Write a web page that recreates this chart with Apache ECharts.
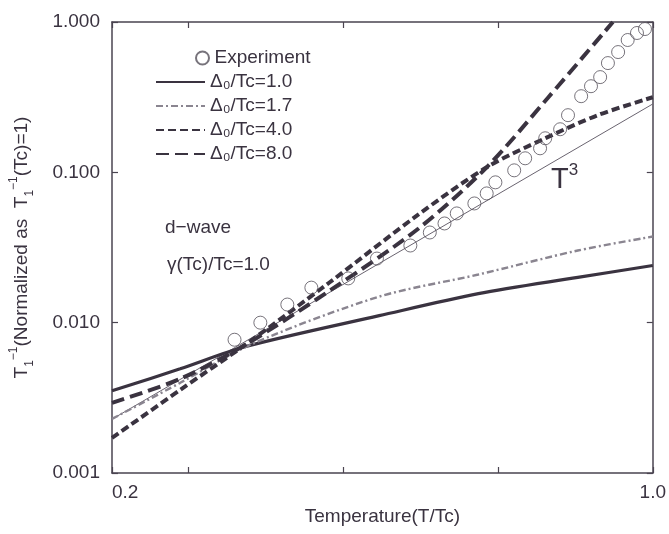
<!DOCTYPE html>
<html>
<head>
<meta charset="utf-8">
<script src="https://cdn.jsdelivr.net/npm/echarts@6/dist/echarts.min.js"></script>
<style>
html,body{margin:0;padding:0;background:#fff;}
#chart{width:669px;height:534px;}
</style>
</head>
<body>
<div id="chart"></div>
<script>
// ---- data ----
const expX = [0.288,0.311,0.337,0.362,0.404,0.440,0.486,0.515,0.538,0.558,0.588,0.610,0.626,0.662,0.684,0.715,0.726,0.759,0.777,0.808,0.832,0.855,0.875,0.902,0.928,0.954,0.977];
const expY = [0.0077,0.0100,0.0132,0.0171,0.0197,0.0267,0.0326,0.0398,0.0457,0.0533,0.0621,0.0724,0.0858,0.1031,0.124,0.1445,0.1685,0.1935,0.240,0.321,0.374,0.430,0.533,0.631,0.759,0.845,0.898];

const d10X = [0.2,0.245,0.297,0.443,0.595,0.80,1.0];
const d10Y = [0.00352,0.00493,0.00691,0.01113,0.0156,0.020,0.024];

const d17X = [0.2,0.245,0.304,0.443,0.595,0.80,1.0];
const d17Y = [0.00229,0.00398,0.00724,0.0149,0.0209,0.0302,0.0374];

const d40X = [0.2,0.245,0.297,0.382,0.498,0.61,0.726,0.849,1.0];
const d40Y = [0.00171,0.00357,0.0071,0.0185,0.0525,0.108,0.1685,0.240,0.316];

const d80X = [0.2,0.245,0.297,0.382,0.498,0.61,0.733,0.888];
const d80Y = [0.00293,0.00423,0.0071,0.0163,0.0423,0.108,0.316,1.0];

const t3X = [0.2,1.0];
const t3Y = [0.00228,0.285];

const names = ['Experiment','Δ₀/Tc=1.0','Δ₀/Tc=1.7','Δ₀/Tc=4.0','Δ₀/Tc=8.0'];
const yTickLabels = ['0.001','0.010','0.100','1.000'];
const xTickLabels = ['0.2','1.0'];

function zip(a,b){return a.map((v,i)=>[v,b[i]]);}

const ink = '#3a3340';
const font = 'Liberation Sans, Arial, sans-serif';

const chart = echarts.init(document.getElementById('chart'), null, {renderer:'canvas'});

const xBase = {
  type:'log', logBase: Math.pow(10,0.2), min:0.2, max:1.0,
  axisLine:{show:true,lineStyle:{color:'#4a4450',width:1.5}},
  axisTick:{show:true,inside:true,length:6,lineStyle:{color:'#4a4450',width:1.2}},
  splitLine:{show:false}, minorTick:{show:false}
};
const yBase = {
  type:'log', logBase:10, min:0.001, max:1,
  axisLine:{show:true,lineStyle:{color:'#4a4450',width:1.5}},
  axisTick:{show:true,inside:true,length:6,lineStyle:{color:'#4a4450',width:1.2}},
  splitLine:{show:false}
};

chart.setOption({
  backgroundColor:'#fff',
  animation:false,
  grid:{left:112,right:15,top:22,bottom:61},
  legend:[
    {data:[names[0]], left:190, top:43, orient:'vertical', itemWidth:14, itemHeight:13, itemGap:4,
     textStyle:{fontSize:19,fontFamily:font,color:ink,lineHeight:20}},
    {data:names.slice(1), left:150, top:67, orient:'vertical', itemWidth:49, itemHeight:14, itemGap:4,
     itemStyle:{opacity:0, borderWidth:0},
     textStyle:{fontSize:19,fontFamily:font,color:ink,lineHeight:20}}
  ],
  xAxis:[
    Object.assign({}, xBase, {
      position:'bottom',
      name:'Temperature(T/Tc)', nameLocation:'middle', nameGap:34,
      nameTextStyle:{fontSize:19,fontFamily:font,color:ink},
      axisLabel:{show:true,margin:10,fontSize:19,fontFamily:font,color:ink,alignMinLabel:'left',
        formatter:function(v){ if(Math.abs(v-0.2)<0.01) return xTickLabels[0]; if(Math.abs(v-1)<0.01) return xTickLabels[1]; return ''; }}
    }),
    Object.assign({}, xBase, {position:'top', axisLabel:{show:false}})
  ],
  yAxis:[
    Object.assign({}, yBase, {
      position:'left',
      name:'T{s|1}{p|−1}(Normalized as  T{s|1}{p|−1}(Tc)=1)', nameLocation:'middle', nameGap:76, nameRotate:90,
      nameTextStyle:{fontSize:19,fontFamily:font,color:ink,lineHeight:28,
        rich:{s:{fontSize:12,fontFamily:font,color:ink,verticalAlign:'bottom',lineHeight:28},
              p:{fontSize:12,fontFamily:font,color:ink,verticalAlign:'top',lineHeight:28}}},
      axisLabel:{show:true,margin:12,fontSize:19,fontFamily:font,color:ink,
        formatter:function(v){ const e=Math.round(Math.log10(v)); return yTickLabels[e+3]; }}
    }),
    Object.assign({}, yBase, {position:'right', axisLabel:{show:false}})
  ],
  graphic:[
    {type:'text', left:165, top:218, style:{text:'d−wave', fontSize:19, fontFamily:font, fill:ink}},
    {type:'text', left:167, top:255, style:{text:'γ(Tc)/Tc=1.0', fontSize:19, fontFamily:font, fill:ink}},
    {type:'text', left:551, top:162, style:{text:'{t|T}{s|3}', fontFamily:font, fill:ink,
      rich:{t:{fontSize:29,fontFamily:font,fill:ink,verticalAlign:'bottom',lineHeight:32},
            s:{fontSize:17,fontFamily:font,fill:ink,verticalAlign:'top',lineHeight:32}}}}
  ],
  series:[
    {name:'T3', type:'line', data:zip(t3X,t3Y), showSymbol:false, symbol:'none',
     lineStyle:{color:'#6a6470',width:1}, z:1, silent:true},
    {name:names[1], type:'line', data:zip(d10X,d10Y), smooth:0.3, symbol:'none',
     lineStyle:{color:ink,width:3.2,type:'solid'}, itemStyle:{color:ink}},
    {name:names[2], type:'line', data:zip(d17X,d17Y), smooth:0.3, symbol:'none',
     lineStyle:{color:'#8a8590',width:2.4,type:[7,3,2,3]}, itemStyle:{color:'#8a8590'}},
    {name:names[3], type:'line', data:zip(d40X,d40Y), smooth:0.3, symbol:'none',
     lineStyle:{color:ink,width:4,type:[8,4]}, itemStyle:{color:ink}},
    {name:names[4], type:'line', data:zip(d80X,d80Y), smooth:0.3, symbol:'none',
     lineStyle:{color:ink,width:4,type:[13,6]}, itemStyle:{color:ink}},
    {name:names[0], type:'scatter', data:zip(expX,expY), symbol:'circle', symbolSize:13,
     itemStyle:{color:'rgba(255,255,255,0)',borderColor:'#55505a',borderWidth:1}, z:5}
  ]
});
</script>
</body>
</html>
